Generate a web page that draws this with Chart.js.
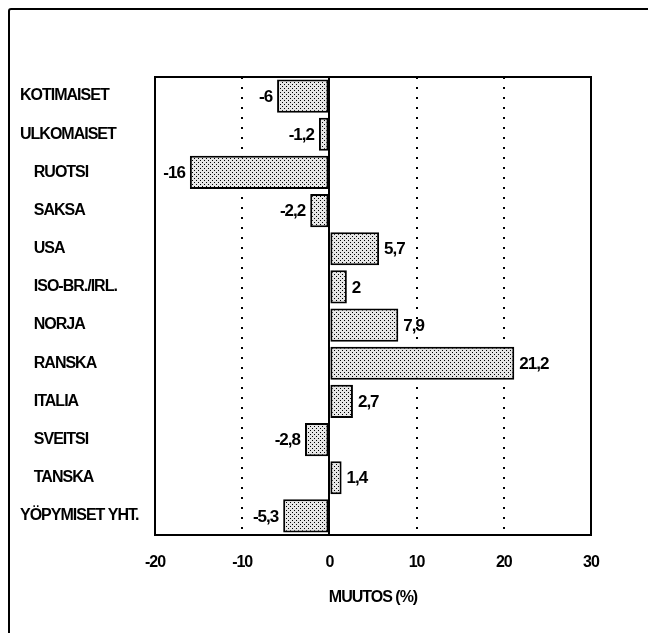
<!DOCTYPE html>
<html>
<head>
<meta charset="utf-8">
<script src="https://cdn.jsdelivr.net/npm/chart.js@4.4.1/dist/chart.umd.min.js"></script>
<style>
  html, body { margin: 0; padding: 0; background: #fff; overflow: hidden; }
  #wrap { position: relative; width: 648px; height: 633px; }
  #frame { position: absolute; left: 8px; top: 8px; width: 700px; height: 700px; border: 2px solid #000; border-radius: 3px; }
  #c { position: absolute; left: 0; top: 0; }
</style>
</head>
<body>
<div id="wrap">
  <div id="frame"></div>
  <canvas id="c" width="648" height="633"></canvas>
</div>
<script>
// ---- data ----
const categories = ['KOTIMAISET', 'ULKOMAISET', 'RUOTSI', 'SAKSA', 'USA', 'ISO-BR./IRL.', 'NORJA', 'RANSKA', 'ITALIA', 'SVEITSI', 'TANSKA', 'YÖPYMISET YHT.'];
const changes = [-6, -1.2, -16, -2.2, 5.7, 2, 7.9, 21.2, 2.7, -2.8, 1.4, -5.3];
const xTickValues = [-20, -10, 0, 10, 20, 30];
const axisTitle = 'MUUTOS (%)';

const FONT = '"Liberation Sans Narrow", "Arial Narrow", "Liberation Sans", sans-serif';

// stipple fill
function stipple() {
  const p = document.createElement('canvas');
  p.width = 4; p.height = 4;
  const g = p.getContext('2d');
  g.fillStyle = '#e6e6e6';
  g.fillRect(0, 0, 4, 4);
  g.fillStyle = '#000';
  g.fillRect(0, 0, 1, 1);
  g.fillRect(2, 2, 1, 1);
  return g.createPattern(p, 'repeat');
}

const fmt = v => String(v).replace('.', ',');
const tighten = chart => { try { chart.ctx.letterSpacing = '-1px'; } catch (e) {} };

const framePlugin = {
  id: 'framePlugin',
  afterInit: tighten,
  beforeUpdate: tighten,
  beforeDraw: tighten,
  beforeDatasetsDraw(chart) {
    const { ctx, chartArea: a, scales: { x } } = chart;
    ctx.save();
    ctx.strokeStyle = '#000';
    ctx.lineWidth = 2;
    const zx = Math.round(x.getPixelForValue(0));
    ctx.beginPath();
    ctx.moveTo(zx, a.top);
    ctx.lineTo(zx, a.bottom);
    ctx.stroke();
    ctx.restore();
  },
  afterDatasetsDraw(chart) {
    const { ctx, chartArea: a } = chart;
    ctx.save();
    ctx.strokeStyle = '#000';
    ctx.lineWidth = 2;
    ctx.strokeRect(a.left, a.top, a.right - a.left, a.bottom - a.top);
    // value labels
    const meta = chart.getDatasetMeta(0);
    ctx.fillStyle = '#000';
    ctx.font = 'bold 17px ' + FONT;
    ctx.textBaseline = 'middle';
    meta.data.forEach((bar, i) => {
      const v = changes[i];
      if (v < 0) { ctx.textAlign = 'right'; ctx.fillText(fmt(v), bar.x - 5, bar.y + 1); }
      else { ctx.textAlign = 'left'; ctx.fillText(fmt(v), bar.x + 5, bar.y + 1); }
    });
    ctx.restore();
  }
};

new Chart(document.getElementById('c'), {
  type: 'bar',
  data: {
    labels: categories,
    datasets: [{
      data: changes,
      backgroundColor: stipple(),
      borderColor: '#000',
      borderWidth: 2,
      borderSkipped: false,
      categoryPercentage: 1,
      barPercentage: 0.87
    }]
  },
  options: {
    indexAxis: 'y',
    responsive: false,
    animation: false,
    events: [],
    layout: { padding: { left: 20, top: 77, right: 57, bottom: 26 } },
    plugins: { legend: { display: false }, tooltip: { enabled: false } },
    scales: {
      x: {
        type: 'linear',
        min: -20, max: 30,
        afterBuildTicks: s => { s.ticks = xTickValues.map(v => ({ value: v })); },
        afterFit: s => { s.height = 72; },
        grid: {
          drawTicks: false,
          lineWidth: 2,
          color: c => (c.tick && (c.tick.value === -10 || c.tick.value === 10 || c.tick.value === 20)) ? '#000' : 'rgba(0,0,0,0)'
        },
        border: { display: false, dash: [2, 8] },
        ticks: { color: '#000', padding: 18, font: { family: FONT, size: 16, weight: 'bold' } },
        title: { display: true, text: axisTitle, color: '#000', padding: { top: 3, bottom: 0 }, font: { family: FONT, size: 16, weight: 'bold' } }
      },
      y: {
        afterFit: s => { s.width = 135; },
        grid: { display: false, drawTicks: false },
        border: { display: false },
        ticks: {
          color: '#000',
          crossAlign: 'far',
          padding: 0,
          autoSkip: false,
          font: { family: FONT, size: 16, weight: 'bold' },
          callback: (v, i) => (i >= 2 && i <= 10 ? '    ' : '') + categories[i]
        }
      }
    }
  },
  plugins: [framePlugin]
});
</script>
</body>
</html>
